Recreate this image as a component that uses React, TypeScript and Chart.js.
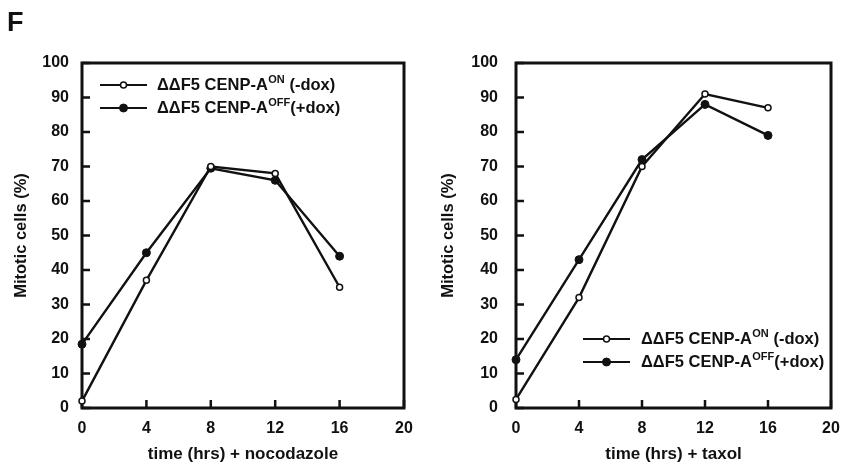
import React, { useEffect, useRef } from "react";
import { Chart, registerables } from "chart.js";

Chart.register(...registerables);

// ---- data ----
const timeHours = [0, 4, 8, 12, 16];
const nocodazoleOn = [2, 37, 70, 68, 35];
const nocodazoleOff = [18.5, 45, 69.5, 66, 44];
const taxolOn = [2.5, 32, 70, 91, 87];
const taxolOff = [14, 43, 72, 88, 79];

const yMin = 0;
const yMax = 100;
const yStep = 10;
const xMin = 0;
const xMax = 20;
const xStep = 4;

const seriesBase = "ΔΔF5 CENP-A";
const onSup = "ON";
const onSuffix = " (-dox)";
const offSup = "OFF";
const offSuffix = "(+dox)";

const yTitle = "Mitotic cells (%)";
const xTitleLeft = "time (hrs) + nocodazole";
const xTitleRight = "time (hrs) + taxol";
const panelLetter = "F";

// ---- style ----
const INK = "#111111";
const FONT = '"Liberation Sans", Arial, Helvetica, sans-serif';

const frameTicksPlugin = {
  id: "frameTicks",
  beforeDatasetsDraw(chart: any) {
    const { ctx, chartArea: a, scales } = chart;
    const x = scales.x;
    const y = scales.y;
    ctx.save();
    ctx.strokeStyle = INK;
    ctx.lineWidth = 3;
    ctx.strokeRect(a.left, a.top, a.right - a.left, a.bottom - a.top);
    ctx.lineWidth = 2.5;
    ctx.beginPath();
    x.ticks.forEach((t: any) => {
      const px = x.getPixelForValue(t.value);
      ctx.moveTo(px, a.bottom);
      ctx.lineTo(px, a.bottom - 8);
    });
    y.ticks.forEach((t: any) => {
      const py = y.getPixelForValue(t.value);
      ctx.moveTo(a.left, py);
      ctx.lineTo(a.left + 8, py);
    });
    ctx.stroke();
    ctx.restore();
  },
};

const customLegendPlugin = {
  id: "customLegend",
  afterDraw(chart: any, _args: any, opts: any) {
    if (!opts || !opts.show) return;
    const { ctx } = chart;
    ctx.save();
    chart.data.datasets.forEach((ds: any, i: number) => {
      const cy = opts.y + i * opts.gap;
      ctx.strokeStyle = INK;
      ctx.lineWidth = 2.2;
      ctx.beginPath();
      ctx.moveTo(opts.x, cy);
      ctx.lineTo(opts.x + opts.lineLen, cy);
      ctx.stroke();
      const mx = opts.x + opts.lineLen / 2;
      ctx.beginPath();
      ctx.arc(mx, cy, ds.pointRadius, 0, Math.PI * 2);
      ctx.fillStyle = ds.pointBackgroundColor;
      ctx.fill();
      ctx.lineWidth = ds.pointBorderWidth;
      ctx.strokeStyle = ds.pointBorderColor;
      ctx.stroke();
      let tx = opts.x + opts.lineLen + opts.textGap;
      ctx.fillStyle = INK;
      ctx.textBaseline = "middle";
      ctx.textAlign = "left";
      ctx.font = `bold 16.5px ${FONT}`;
      ctx.fillText(ds.labelBase, tx, cy);
      tx += ctx.measureText(ds.labelBase).width;
      ctx.font = `bold 11px ${FONT}`;
      ctx.fillText(ds.labelSup, tx + 0.5, cy - 5);
      tx += ctx.measureText(ds.labelSup).width + 0.5;
      ctx.font = `bold 16.5px ${FONT}`;
      ctx.fillText(ds.labelSuffix, tx, cy);
    });
    ctx.restore();
  },
};

const letterPlugin = {
  id: "panelLetter",
  afterDraw(chart: any, _args: any, opts: any) {
    if (!opts || !opts.text) return;
    const { ctx } = chart;
    ctx.save();
    ctx.fillStyle = INK;
    ctx.font = `bold 27px ${FONT}`;
    ctx.textBaseline = "alphabetic";
    ctx.textAlign = "left";
    ctx.fillText(opts.text, 7, 31);
    ctx.restore();
  },
};

function makeDatasets(on: number[], off: number[]) {
  return [
    {
      label: seriesBase + onSup + onSuffix,
      labelBase: seriesBase,
      labelSup: onSup,
      labelSuffix: onSuffix,
      data: timeHours.map((t, i) => ({ x: t, y: on[i] })),
      borderColor: INK,
      borderWidth: 2.4,
      pointRadius: 3,
      pointBackgroundColor: "#ffffff",
      pointBorderColor: INK,
      pointBorderWidth: 1.5,
      tension: 0,
      clip: false,
    },
    {
      label: seriesBase + offSup + offSuffix,
      labelBase: seriesBase,
      labelSup: offSup,
      labelSuffix: offSuffix,
      data: timeHours.map((t, i) => ({ x: t, y: off[i] })),
      borderColor: INK,
      borderWidth: 2.4,
      pointRadius: 4,
      pointBackgroundColor: INK,
      pointBorderColor: INK,
      pointBorderWidth: 1,
      tension: 0,
      clip: false,
    },
  ];
}

type PanelCfg = {
  on: number[];
  off: number[];
  xTitle: string;
  yAxisWidth: number;
  yTitlePad: number;
  yTickPad: number;
  padRight: number;
  legend: any;
  letter?: string;
};

function Panel({ cfg, left, width }: { cfg: PanelCfg; left: number; width: number }) {
  const ref = useRef<HTMLCanvasElement | null>(null);
  useEffect(() => {
    if (!ref.current) return;
    const chart = new Chart(ref.current, {
      type: "line",
      data: { datasets: makeDatasets(cfg.on, cfg.off) as any },
      plugins: [frameTicksPlugin, customLegendPlugin, letterPlugin],
      options: {
        responsive: false,
        animation: false,
        events: [],
        layout: {
          autoPadding: false,
          padding: { left: 0, right: cfg.padRight, top: 63, bottom: 0 },
        },
        plugins: {
          legend: { display: false },
          tooltip: { enabled: false },
          customLegend: cfg.legend,
          panelLetter: { text: cfg.letter || "" },
        } as any,
        scales: {
          x: {
            type: "linear",
            min: xMin,
            max: xMax,
            grid: { display: false, drawTicks: false },
            border: { display: false },
            ticks: {
              stepSize: xStep,
              padding: 11,
              color: INK,
              font: { family: FONT, size: 16, weight: "bold" },
              maxRotation: 0,
            },
            title: {
              display: true,
              text: cfg.xTitle,
              color: INK,
              font: { family: FONT, size: 17, weight: "bold" },
              padding: { top: 0, bottom: -1 },
            },
            afterFit(scale: any) {
              scale.height = 56;
              scale.paddingLeft = 0;
              scale.paddingRight = 0;
            },
          },
          y: {
            type: "linear",
            min: yMin,
            max: yMax,
            grid: { display: false, drawTicks: false },
            border: { display: false },
            ticks: {
              stepSize: yStep,
              padding: cfg.yTickPad,
              color: INK,
              font: { family: FONT, size: 16, weight: "bold" },
            },
            title: {
              display: true,
              text: yTitle,
              color: INK,
              font: { family: FONT, size: 16.5, weight: "bold" },
              padding: { top: cfg.yTitlePad, bottom: 0 },
            },
            afterFit(scale: any) {
              scale.width = cfg.yAxisWidth;
            },
          },
        },
      } as any,
    });
    return () => chart.destroy();
  }, []);
  return (
    <canvas
      ref={ref}
      width={width}
      height={464}
      style={{ position: "absolute", left, top: 0, display: "block" }}
    />
  );
}

const leftCfg: PanelCfg = {
  on: nocodazoleOn,
  off: nocodazoleOff,
  xTitle: xTitleLeft,
  yAxisWidth: 82,
  yTitlePad: 12,
  yTickPad: 13,
  padRight: 16,
  legend: { show: true, x: 100, y: 85, gap: 23, lineLen: 47, textGap: 10 },
  letter: panelLetter,
};

const rightCfg: PanelCfg = {
  on: taxolOn,
  off: taxolOff,
  xTitle: xTitleRight,
  yAxisWidth: 96,
  yTitlePad: 19,
  yTickPad: 18,
  padRight: 15,
  legend: { show: true, x: 163, y: 339, gap: 23, lineLen: 47, textGap: 11 },
};

export default function App() {
  return (
    <div
      style={{
        position: "absolute",
        left: 0,
        top: 0,
        width: 846,
        height: 464,
        background: "#ffffff",
        overflow: "hidden",
      }}
    >
      <Panel cfg={leftCfg} left={0} width={420} />
      <Panel cfg={rightCfg} left={420} width={426} />
    </div>
  );
}
